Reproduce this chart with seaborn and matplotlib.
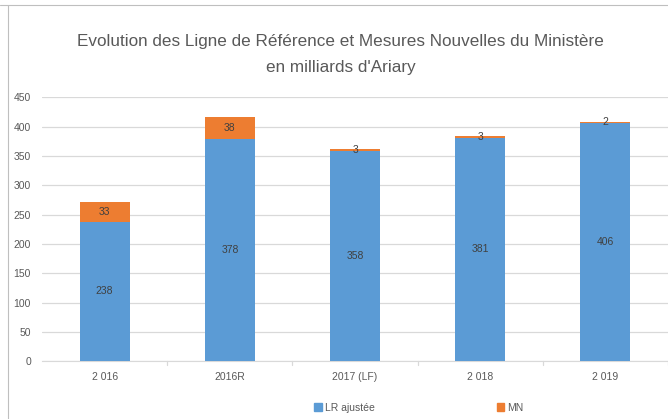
import matplotlib
matplotlib.use("Agg")
import matplotlib.pyplot as plt
import seaborn as sns
import pandas as pd
from matplotlib.patches import Patch
from matplotlib.lines import Line2D

# Données (milliards d'Ariary)
annees = ["2 016", "2016R", "2017 (LF)", "2 018", "2 019"]
lr_ajustee = [238, 378, 358, 381, 406]
mn = [33, 38, 3, 3, 2]

bleu = "#5B9BD5"
orange = "#ED7D31"
gris = "#595959"

df = pd.DataFrame({"annee": annees, "lr": lr_ajustee, "mn": mn})
df["total"] = df["lr"] + df["mn"]

sns.set_style("white")
plt.rcParams["font.family"] = ["Liberation Sans", "DejaVu Sans"]

fig = plt.figure(figsize=(6.68, 4.19), dpi=100)
ax = fig.add_axes([0.063, 0.138, 0.937, 0.63])

# barres empilées : total (orange) puis LR par-dessus (bleu)
sns.barplot(data=df, x="annee", y="total", color=orange, width=0.4,
            saturation=1, linewidth=0, ax=ax, zorder=2)
sns.barplot(data=df, x="annee", y="lr", color=bleu, width=0.4,
            saturation=1, linewidth=0, ax=ax, zorder=3)

for i, row in df.iterrows():
    ax.text(i, row["lr"] / 2, str(row["lr"]), ha="center", va="center",
            fontsize=7.5, color="#404040", zorder=4)
    ax.text(i, row["lr"] + row["mn"] / 2, str(row["mn"]), ha="center",
            va="center", fontsize=7.5, color="#404040", zorder=4)

ax.set_ylim(0, 450)
ax.set_xlim(-0.5, 4.5)
ax.set_yticks(range(0, 451, 50))
ax.yaxis.grid(True, color="#D9D9D9", linewidth=0.9, zorder=0)
ax.set_axisbelow(True)
for s in ["top", "right", "left"]:
    ax.spines[s].set_visible(False)
ax.spines["bottom"].set_color("#D9D9D9")
ax.tick_params(axis="y", length=0, labelsize=7.5, labelcolor=gris, pad=8)
ax.tick_params(axis="x", length=0, labelsize=7.5, labelcolor=gris, pad=8)
ax.set_xlabel("")
ax.set_ylabel("")
for b in [0.5, 1.5, 2.5, 3.5, 4.5]:
    ax.plot([b, b], [0, -6], color="#D9D9D9", lw=0.9, clip_on=False)

fig.text(0.51, 0.9, "Evolution des Ligne de Référence et Mesures Nouvelles du Ministère",
         ha="center", va="center", fontsize=12.3, color=gris)
fig.text(0.51, 0.838, "en milliards d'Ariary", ha="center", va="center",
         fontsize=12.3, color=gris)

handles = [Patch(color=bleu, label="LR ajustée"), Patch(color=orange, label="MN")]
fig.legend(handles=handles, loc="center", bbox_to_anchor=(0.627, 0.027), ncol=2,
           frameon=False, fontsize=7.5, labelcolor=gris, handlelength=0.7,
           handleheight=0.7, handletextpad=0.3, columnspacing=11.7)

# cadre
fig.add_artist(Line2D([0.0, 1.0], [0.988, 0.988], color="#BFBFBF", lw=0.8))
fig.add_artist(Line2D([0.012, 0.012], [0.0, 0.988], color="#BFBFBF", lw=0.8))

fig.savefig("out.png", dpi=100)
